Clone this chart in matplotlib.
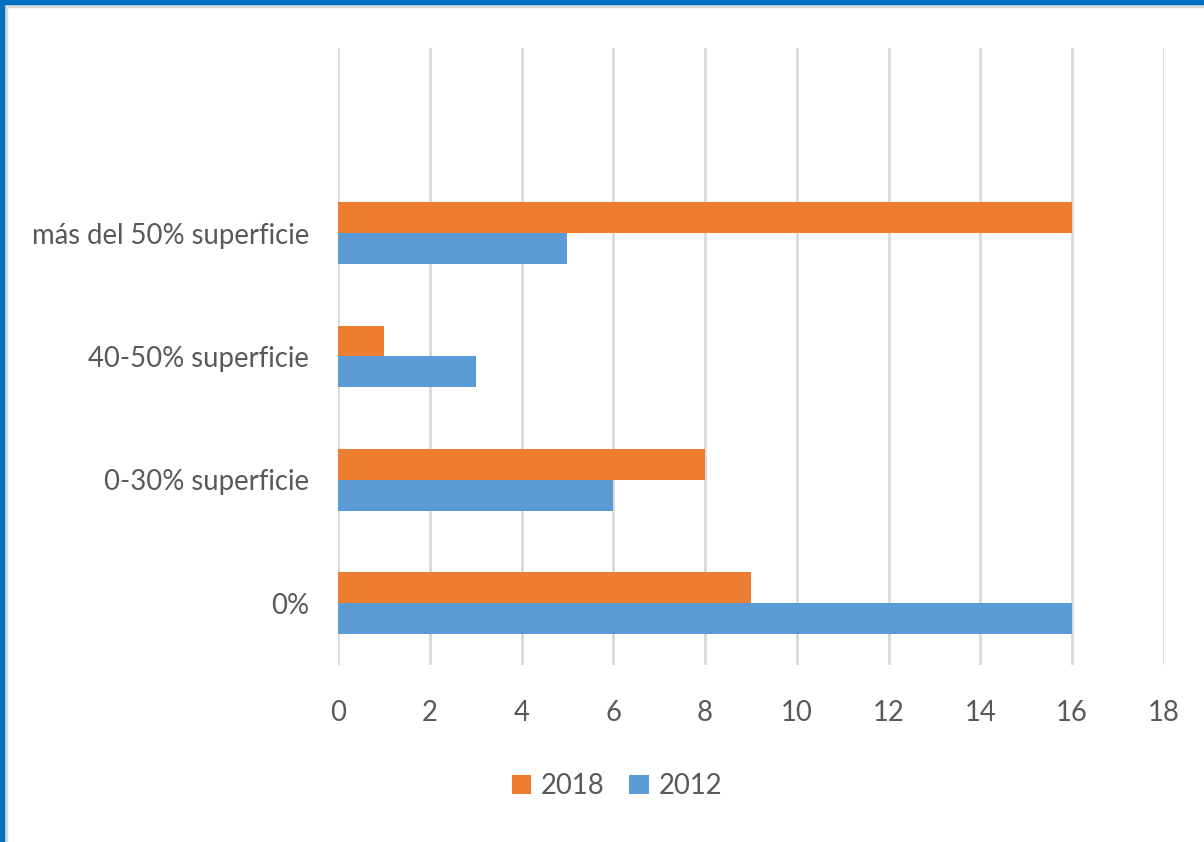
import matplotlib
matplotlib.use("Agg")
import matplotlib.pyplot as plt
from matplotlib.patches import Rectangle

categories = ["0%", "0-30% superficie", "40-50% superficie", "más del 50% superficie"]
values_2018 = [9, 8, 1, 16]
values_2012 = [16, 6, 3, 5]
xticks = [0, 2, 4, 6, 8, 10, 12, 14, 16, 18]

plt.rcParams["font.family"] = ["Lato", "DejaVu Sans"]

orange = "#ED7D31"
blue = "#5B9BD5"
txt = "#595959"
fs = 19.8

fig = plt.figure(figsize=(12.04, 8.42), dpi=100)
ax = fig.add_axes([338/1204, 1-665/842, (1164-338)/1204, (665-48)/842])

y = list(range(len(categories)))
h = 0.25
ax.barh([v + h/2 for v in y], values_2018, height=h, color=orange, label="2018", zorder=3)
ax.barh([v - h/2 for v in y], values_2012, height=h, color=blue, label="2012", zorder=3)

ax.set_xlim(0, 18)
ax.set_ylim(-0.5, 4.5)
ax.set_xticks(xticks)
ax.set_xticklabels([str(t) for t in xticks], fontsize=fs, color=txt)
ax.set_yticks(y)
ax.set_yticklabels(categories, fontsize=fs, color=txt)
ax.tick_params(axis="x", length=0, pad=25)
ax.tick_params(axis="y", length=0, pad=21)
ax.grid(axis="x", color="#D9D9D9", linewidth=2, zorder=0)
for s in ax.spines.values():
    s.set_visible(False)

handles, labels = ax.get_legend_handles_labels()
leg = fig.legend(handles, labels, loc="center", bbox_to_anchor=(617/1204, 1-786/842),
                 ncol=2, frameon=False, fontsize=fs, handlelength=0.7, handleheight=0.7,
                 handletextpad=0.35, columnspacing=0.9)
for t in leg.get_texts():
    t.set_color(txt)

# border
fig.patches.append(Rectangle((0, 1-4/842), 1, 4/842, transform=fig.transFigure, color="#0070C0", zorder=10))
fig.patches.append(Rectangle((0, 0), 4/1204, 1, transform=fig.transFigure, color="#0070C0", zorder=10))
fig.patches.append(Rectangle((4/1204, 1-7/842), 1, 3/842, transform=fig.transFigure, color="#D9D9D9", zorder=9))
fig.patches.append(Rectangle((4/1204, 0), 3/1204, 1-4/842, transform=fig.transFigure, color="#D9D9D9", zorder=9))

fig.savefig("out.png", dpi=100)
